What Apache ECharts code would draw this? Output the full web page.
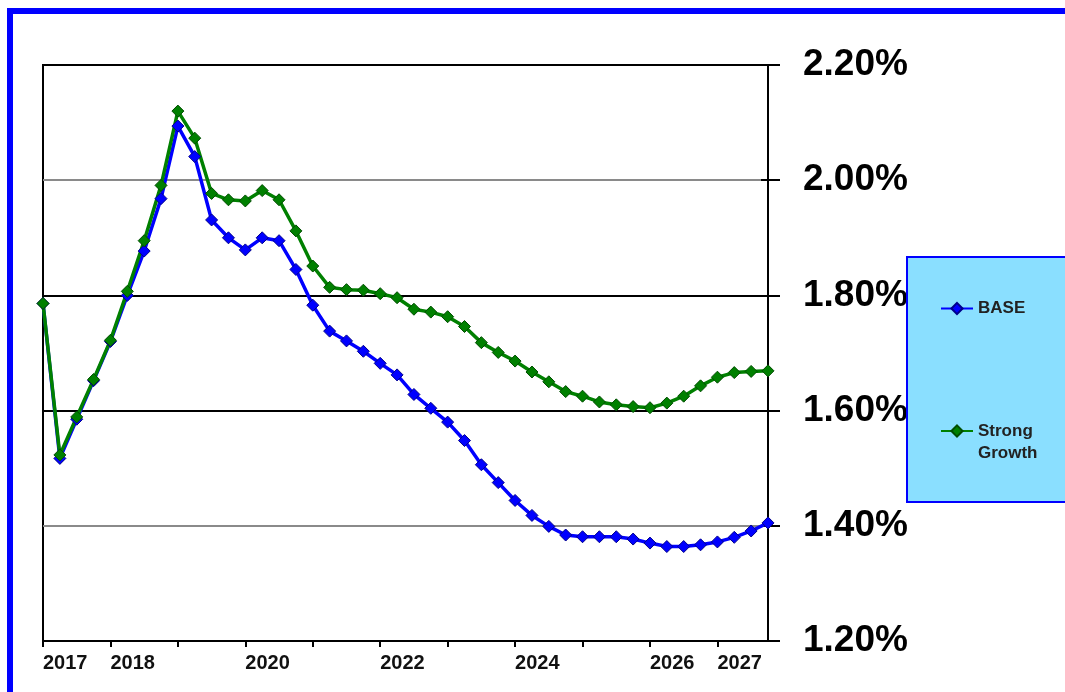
<!DOCTYPE html>
<html>
<head>
<meta charset="utf-8">
<script src="https://cdn.jsdelivr.net/npm/echarts@6/dist/echarts.min.js"></script>
<style>
  html, body { margin: 0; padding: 0; background: #fff; }
  #main { width: 1065px; height: 692px; }
</style>
</head>
<body>
<div id="main"></div>
<script>
// quarters 2017Q1 .. 2027Q4
var quarters = [];
for (var y = 2017; y <= 2027; y++) {
    for (var q = 1; q <= 4; q++) quarters.push(y + 'Q' + q);
}
var yearLabels = ['2017', '2018', '2020', '2022', '2024', '2026', '2027'];

var baseValues = [
    1.786, 1.517, 1.585, 1.652, 1.720, 1.800, 1.877, 1.968, 2.094, 2.041, 1.931,
    1.900, 1.879, 1.900, 1.895, 1.845, 1.783, 1.738, 1.721, 1.703, 1.682, 1.662,
    1.628, 1.604, 1.580, 1.548, 1.506, 1.475, 1.444, 1.418, 1.399, 1.384, 1.381,
    1.381, 1.381, 1.377, 1.370, 1.364, 1.364, 1.367, 1.372, 1.380, 1.391, 1.405
];
var strongValues = [
    1.786, 1.523, 1.589, 1.654, 1.722, 1.807, 1.895, 1.991, 2.120, 2.073, 1.977,
    1.966, 1.964, 1.982, 1.966, 1.912, 1.851, 1.814, 1.810, 1.809, 1.803, 1.796,
    1.776, 1.771, 1.763, 1.746, 1.718, 1.701, 1.686, 1.667, 1.650, 1.633, 1.625,
    1.615, 1.610, 1.607, 1.605, 1.613, 1.625, 1.643, 1.658, 1.666, 1.668, 1.669
];

var myChart = echarts.init(document.getElementById('main'));
var font = "'Liberation Sans', Arial, sans-serif";

var option = {
    animation: false,
    textStyle: { fontFamily: font },
    grid: {
        left: 43, right: 297, top: 65, bottom: 51,
        show: true, borderColor: '#000', borderWidth: 2, backgroundColor: '#fff'
    },
    graphic: [
        { type: 'rect', z: 0, shape: { x: 10, y: 11, width: 1200, height: 900 },
          style: { fill: null, stroke: '#0000ff', lineWidth: 6 } },
        { type: 'rect', z: 1, shape: { x: 907, y: 257, width: 200, height: 245 },
          style: { fill: '#8adfff', stroke: '#0000ff', lineWidth: 2 } }
    ],
    legend: [
        { data: ['BASE'], left: 940, top: 300, z: 5, padding: 0, itemWidth: 32, itemHeight: 14,
          textStyle: { fontFamily: font, fontWeight: 'bold', fontSize: 17, color: '#222' } },
        { data: ['Strong Growth'], left: 940, top: 398, z: 5, padding: 0, itemWidth: 32, itemHeight: 14,
          formatter: function () { return '\nStrong\nGrowth'; },
          textStyle: { fontFamily: font, fontWeight: 'bold', fontSize: 17, color: '#222',
                       lineHeight: 22 } }
    ],
    xAxis: {
        type: 'category',
        data: quarters,
        boundaryGap: false,
        axisLine: { lineStyle: { color: '#000', width: 2 } },
        axisTick: { interval: 3, length: 6, lineStyle: { color: '#000', width: 2 } },
        axisLabel: {
            interval: function (i, v) {
                return v.slice(4) === 'Q1' && yearLabels.indexOf(v.slice(0, 4)) >= 0;
            },
            formatter: function (v) { return v.slice(0, 4); },
            align: 'left', margin: 12,
            fontFamily: font, fontWeight: 'bold', fontSize: 20, color: '#111'
        },
        splitLine: { show: false }
    },
    yAxis: [
        {
            type: 'value', position: 'right', min: 1.2, max: 2.2, interval: 0.2,
            axisLine: { show: true, lineStyle: { color: '#000', width: 2 } },
            axisTick: { show: true, length: 12, lineStyle: { color: '#000', width: 2 } },
            axisLabel: {
                formatter: function (v) { return v.toFixed(2) + '%'; },
                margin: 35, fontFamily: font, fontWeight: 'bold', fontSize: 37, color: '#000'
            },
            splitLine: { show: true, lineStyle: {
                color: ['#000', '#8a8a8a', '#000', '#000', '#8a8a8a', '#000'], width: 2 } }
        },
        {
            type: 'value', position: 'right', min: 1.2, max: 2.2, interval: 0.2,
            axisLine: { show: false },
            axisTick: { show: true, inside: true, length: 7, lineStyle: { color: '#000', width: 2 } },
            axisLabel: { show: false },
            splitLine: { show: false }
        }
    ],
    series: [
        {
            name: 'BASE', type: 'line', data: baseValues,
            symbol: 'diamond', symbolSize: 12, showAllSymbol: true,
            lineStyle: { color: '#0000ff', width: 3.5 },
            itemStyle: { color: '#0000ff', borderColor: '#00008b', borderWidth: 1 }
        },
        {
            name: 'Strong Growth', type: 'line', data: strongValues,
            symbol: 'diamond', symbolSize: 12, showAllSymbol: true,
            lineStyle: { color: '#008000', width: 3.5 },
            itemStyle: { color: '#008000', borderColor: '#004d00', borderWidth: 1 }
        }
    ]
};

myChart.setOption(option);
</script>
</body>
</html>
